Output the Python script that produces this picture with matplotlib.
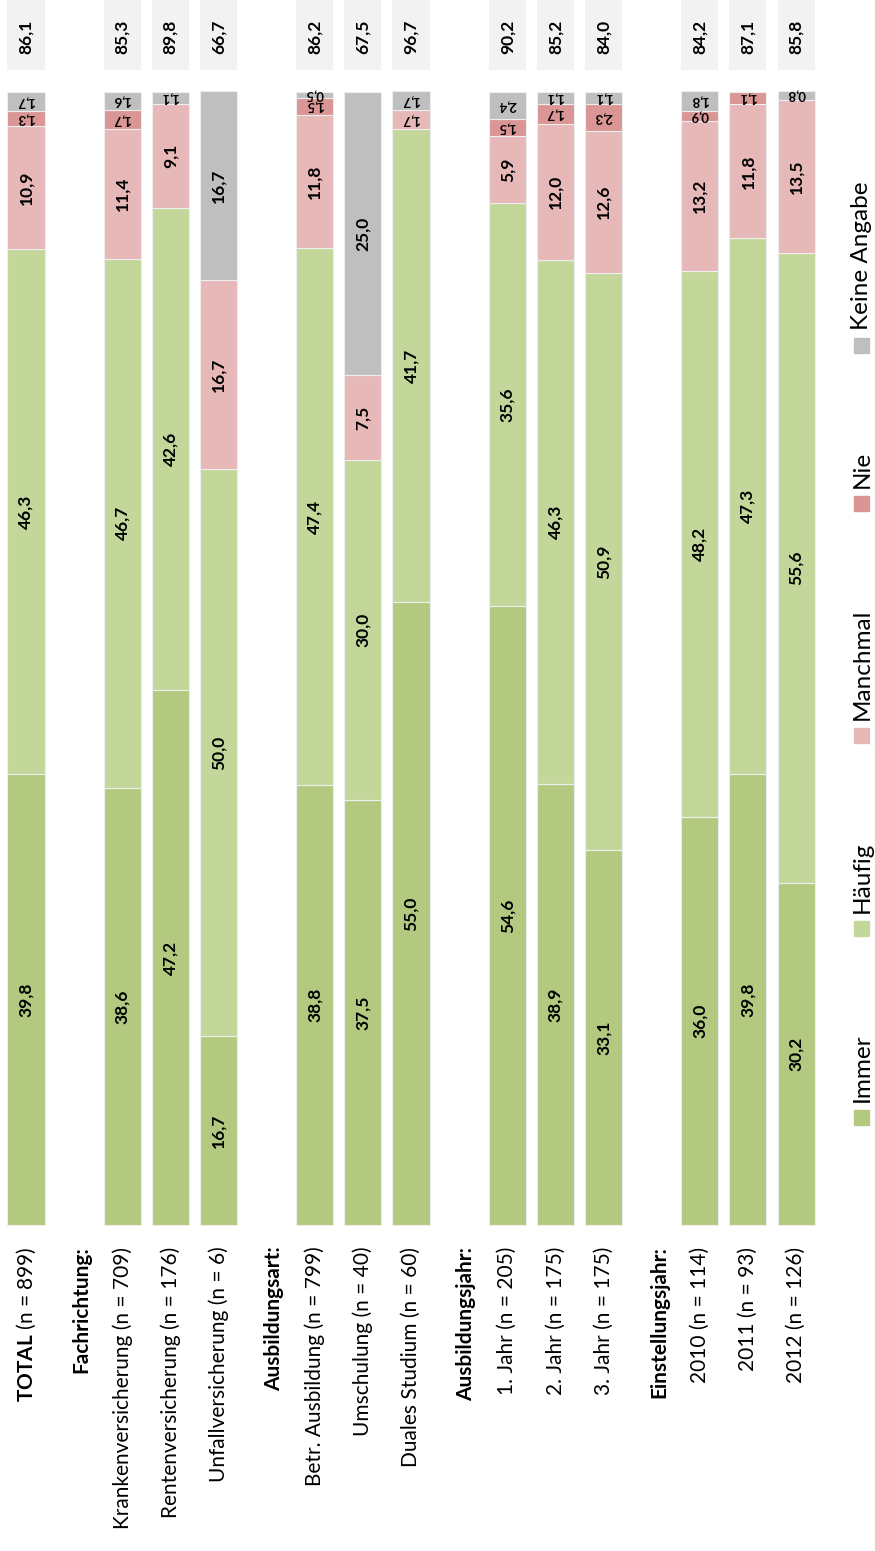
import numpy as np
import matplotlib
matplotlib.use("Agg")
import matplotlib.pyplot as plt
from matplotlib.patches import Rectangle

plt.rcParams["font.family"] = ["Lato", "DejaVu Sans"]
plt.rcParams["mathtext.fontset"] = "custom"
plt.rcParams["mathtext.rm"] = "Lato"
plt.rcParams["mathtext.bf"] = "Lato:bold"

# Daten (Prozent), Reihenfolge wie im Original
kategorien = ["$\\bf{TOTAL}$ (n = 899)", "Fachrichtung:",
              "Krankenversicherung (n = 709)", "Rentenversicherung (n = 176)",
              "Unfallversicherung (n = 6)", "Ausbildungsart:",
              "Betr. Ausbildung (n = 799)", "Umschulung (n = 40)",
              "Duales Studium (n = 60)", "Ausbildungsjahr:",
              "1. Jahr (n = 205)", "2. Jahr (n = 175)", "3. Jahr (n = 175)",
              "Einstellungsjahr:",
              "2010 (n = 114)", "2011 (n = 93)", "2012 (n = 126)"]
kopfzeilen = ["Fachrichtung:", "Ausbildungsart:", "Ausbildungsjahr:", "Einstellungsjahr:"]

immer    = [39.8, 0, 38.6, 47.2, 16.7, 0, 38.8, 37.5, 55.0, 0, 54.6, 38.9, 33.1, 0, 36.0, 39.8, 30.2]
haeufig  = [46.3, 0, 46.7, 42.6, 50.0, 0, 47.4, 30.0, 41.7, 0, 35.6, 46.3, 50.9, 0, 48.2, 47.3, 55.6]
manchmal = [10.9, 0, 11.4, 9.1, 16.7, 0, 11.8, 7.5, 1.7, 0, 5.9, 12.0, 12.6, 0, 13.2, 11.8, 13.5]
nie      = [1.3, 0, 1.7, 0.0, 0.0, 0, 1.5, 0.0, 0.0, 0, 1.5, 1.7, 2.3, 0, 0.9, 1.1, 0.0]
keine    = [1.7, 0, 1.6, 1.1, 16.7, 0, 0.5, 25.0, 1.7, 0, 2.4, 1.1, 1.1, 0, 1.8, 0.0, 0.8]
summe    = [86.1, 0, 85.3, 89.8, 66.7, 0, 86.2, 67.5, 96.7, 0, 90.2, 85.2, 84.0, 0, 84.2, 87.1, 85.8]

serien = ["Immer", "Häufig", "Manchmal", "Nie", "Keine Angabe"]
farben = ["#b3c97f", "#c4d79b", "#e6b8b7", "#da9694", "#bfbfbf"]

W, H = 875, 1551
fig = plt.figure(figsize=(W / 100, H / 100), dpi=100)
ax = fig.add_axes([0, 0, 1, 1])
ax.set_xlim(-0.54, 17.64)
ax.set_ylim(-28.77, 108.12)
ax.axis("off")

def komma(v):
    return f"{v:.1f}".replace(".", ",")

idx = np.array([i for i, k in enumerate(kategorien) if k not in kopfzeilen])
breite = 0.77

unten = np.zeros(len(idx))
for name, werte, farbe in zip(serien, [immer, haeufig, manchmal, nie, keine], farben):
    w = np.array(werte, dtype=float)[idx]
    ax.bar(idx, w, width=breite, bottom=unten, color=farbe,
           edgecolor="#eeeeee", linewidth=0.8)
    for xi, v, b in zip(idx, w, unten):
        if v <= 0:
            continue
        if v < 3:
            ax.text(xi, b + v / 2, komma(v), rotation=180, ha="center", va="center",
                    fontsize=9.5, fontweight="bold")
        else:
            ax.text(xi, b + v / 2, komma(v), rotation=90, ha="center", va="center",
                    fontsize=12.5, fontweight="bold")
    unten = unten + w

# Summenfelder oben (Immer + Häufig)
s = np.array(summe, dtype=float)[idx]
ax.bar(idx, 6.3, bottom=101.9, width=breite, color="#f2f2f2")
for xi, v in zip(idx, s):
    ax.text(xi, 104.9, komma(v), rotation=90, ha="center", va="center",
            fontsize=12.5, fontweight="bold")

# Kategorienbeschriftung
for i, k in enumerate(kategorien):
    if k in kopfzeilen:
        ax.text(i + 0.15, -1.9, k, rotation=90, ha="center", va="top",
                fontsize=15, fontweight="bold")
    else:
        ax.text(i, -1.9, k, rotation=90, ha="center", va="top", fontsize=15)

# Legende (rotiert, von unten nach oben)
renderer = fig.canvas.get_renderer()
y_px = 1125
for name, farbe in zip(serien, farben):
    fig.patches.append(Rectangle((854 / W, 1 - y_px / H), 15 / W, 15 / H,
                                 transform=fig.transFigure, color=farbe))
    t = fig.text(862 / W, 1 - (y_px - 23) / H, name, rotation=90,
                 ha="center", va="bottom", fontsize=17.5)
    ext = t.get_window_extent(renderer)
    y_px = H - ext.y1 - 98

fig.savefig("out.png", dpi=100)
